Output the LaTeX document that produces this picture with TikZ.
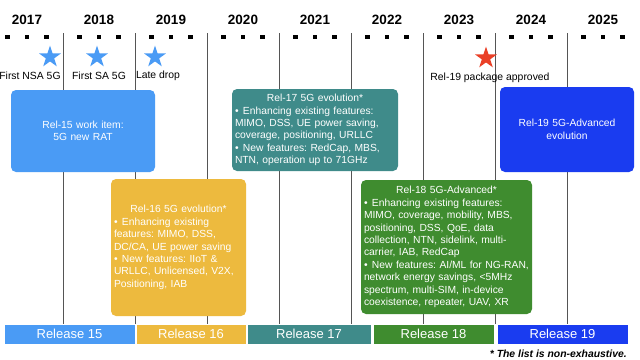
\documentclass[tikz,border=0pt]{standalone}
\usepackage{fontspec}
\setmainfont{Liberation Sans}
\usetikzlibrary{shapes.geometric}
\definecolor{cA}{HTML}{4A9BF5}
\definecolor{cB}{HTML}{EDBA3E}
\definecolor{cC}{HTML}{3F8B8A}
\definecolor{cD}{HTML}{3F8C2F}
\definecolor{cE}{HTML}{1A3CF0}
\definecolor{cRed}{HTML}{EA4027}
\definecolor{cLine}{HTML}{555555}
\frenchspacing
\newcommand{\nohyph}{\hyphenpenalty=10000\relax\exhyphenpenalty=10000\relax}
\newcommand{\bitem}[1]{\par\hangindent=8pt\hangafter=1\noindent\makebox[8pt][l]{\textbullet}#1}
\newcommand{\btitle}[1]{\noindent\makebox[\linewidth][c]{#1}}
\tikzset{
  yearlbl/.style={font=\fontsize{13.5}{15}\selectfont\bfseries, inner sep=0},
  starlbl/.style={font=\fontsize{10.4}{12}\selectfont, inner sep=0},
  mstar/.style={star, star points=5, star point ratio=2.618, minimum size=23pt, inner sep=0},
  relbox/.style={rounded corners=5pt, text=white, inner xsep=3pt, inner ysep=0pt,
     font=\fontsize{10.3}{12.4}\selectfont\nohyph},
  relbar/.style={text=white, draw=white, line width=0.6pt, minimum height=20pt, inner sep=0,
     font=\fontsize{13}{15}\selectfont},
  yline/.style={cLine, line width=0.7pt}
}
\begin{document}
\begin{tikzpicture}[x=1pt,y=-1pt]
\useasboundingbox (0,0) rectangle (640,359);
\fill[white] (0,0) rectangle (640,359);
% year labels and squares
\foreach \yr [count=\i from 0] in {2017,2018,2019,2020,2021,2022,2023,2024,2025}{
  \node[yearlbl] (y\yr) at (27+72*\i,20) {\yr};
  \foreach \dx in {-19.5,0,19.5}{
    \fill (27+72*\i+\dx-2.2,34.8) rectangle (27+72*\i+\dx+2.2,39.2);
  }
}
% vertical lines
\foreach \k in {0,...,7}{
  \coordinate (lt\k) at (63+72*\k,33);
  \coordinate (lb\k) at (63+72*\k,324);
  \draw[yline] (lt\k) -- (lb\k);
}
% stars
\node[mstar, fill=cA] (s1) at (50,57) {};
\node[mstar, fill=cA] (s2) at (97,57) {};
\node[mstar, fill=cA] (s3) at (155,57) {};
\node[mstar, fill=cRed] (s4) at (486,58) {};
\node[starlbl] (t1) at (30,76) {First NSA 5G};
\node[starlbl] (t2) at (99,76) {First SA 5G};
\node[starlbl] (t3) at (158,76) {Late drop};
\node[starlbl] (t4) at (490,78) {Rel-19 package approved};
% release boxes
\node[relbox, fill=cA, minimum height=82pt, text width=138pt, align=center] (r15) at (83,131)
  {Rel-15 work item:\\5G new RAT};
\node[relbox, fill=cC, minimum height=82pt, text width=160pt, align=left] (r17) at (315,130)
  {\btitle{Rel-17 5G evolution*}
   \bitem{Enhancing existing features:\\MIMO, DSS, UE power saving,\\coverage, positioning, URLLC}
   \bitem{New features: RedCap, MBS,\\NTN, operation up to 71GHz}};
\node[relbox, fill=cE, minimum height=85pt, text width=128pt, align=center] (r19) at (567,129.5)
  {Rel-19 5G-Advanced\\evolution};
\node[relbox, fill=cB, minimum height=137pt, text width=129pt, align=left] (r16) at (178.5,247.5)
  {\btitle{Rel-16 5G evolution*}
   \bitem{Enhancing existing\\features: MIMO, DSS,\\DC/CA, UE power saving}
   \bitem{New features: IIoT \&\\URLLC, Unlicensed, V2X,\\Positioning, IAB}};
\node[relbox, fill=cD, minimum height=134pt, text width=165pt, align=left] (r18) at (446.5,247)
  {\btitle{Rel-18 5G-Advanced*}
   \bitem{Enhancing existing features:\\MIMO, coverage, mobility, MBS,\\positioning, DSS, QoE, data\\collection, NTN, sidelink, multi-\\carrier, IAB, RedCap}
   \bitem{New features: AI/ML for NG-RAN,\\network energy savings, <5MHz\\spectrum, multi-SIM, in-device\\coexistence, repeater, UAV, XR}};
% release bars
\node[relbar, fill=cA, minimum width=131pt] (b15) at (69.5,334) {Release 15};
\node[relbar, fill=cB, minimum width=110pt] (b16) at (191,334) {Release 16};
\node[relbar, fill=cC, minimum width=124pt] (b17) at (309,334) {Release 17};
\node[relbar, fill=cD, minimum width=121pt] (b18) at (433.5,334) {Release 18};
\node[relbar, fill=cE, minimum width=131pt] (b19) at (562.5,334) {Release 19};
% footnote
\node[anchor=east, inner sep=0, font=\fontsize{10.4}{12}\selectfont\bfseries\itshape] (fn) at (627,354)
  {* The list is non-exhaustive.};
\end{tikzpicture}
\end{document}
